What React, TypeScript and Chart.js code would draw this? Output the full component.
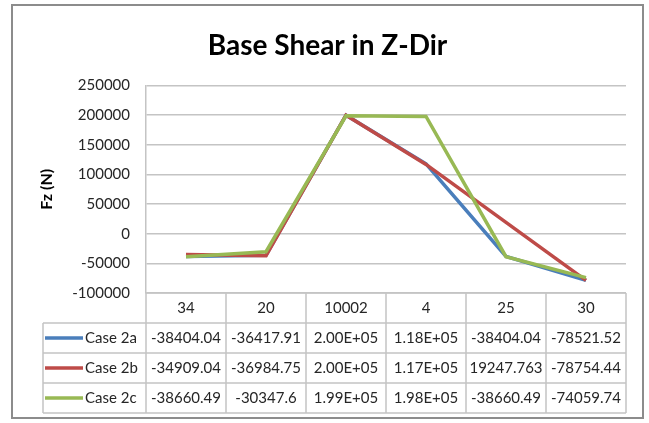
import React, { useEffect, useRef } from "react";
import { Chart, registerables } from "chart.js";

Chart.register(...registerables);

// ---- data ----
const categories = ["34", "20", "10002", "4", "25", "30"];
const seriesNames = ["Case 2a", "Case 2b", "Case 2c"];
const case2a = [-38404.04, -36417.91, 200000, 118000, -38404.04, -78521.52];
const case2b = [-34909.04, -36984.75, 200000, 117000, 19247.763, -78754.44];
const case2c = [-38660.49, -30347.6, 199000, 198000, -38660.49, -74059.74];
const seriesColors = ["#4A7EBB", "#BE4B48", "#98B954"];
const yMin = -100000;
const yMax = 250000;
const yStep = 50000;
const titleText = "Base Shear in Z-Dir";
const yTitleText = "Fz (N)";

const allSeries = [case2a, case2b, case2c];

const FONT = "Lato, 'Open Sans', sans-serif";
const GRID = "#C4C4C4";
const TEXT = "#262626";

function fmt(v: number): string {
  if (Math.abs(v) >= 100000) {
    const [m, e] = v.toExponential(2).split("e");
    const n = parseInt(e, 10);
    return m + "E" + (n < 0 ? "-" : "+") + String(Math.abs(n)).padStart(2, "0");
  }
  return String(v);
}

const ROW_H = 30;
const LEGEND_LEFT = 43;

const tablePlugin = {
  id: "excelTable",
  beforeDraw(chart: any) {
    const ctx = chart.ctx;
    ctx.save();
    ctx.fillStyle = "#ffffff";
    ctx.fillRect(0, 0, chart.width, chart.height);
    ctx.restore();
  },
  afterDraw(chart: any) {
    const { ctx, chartArea } = chart;
    const xs = chart.scales.x;
    const n = categories.length;
    const band = chartArea.width / n;
    const centers = categories.map((_, i) => xs.getPixelForValue(i));
    const edges = [centers[0] - band / 2, ...centers.map((c) => c + band / 2)];
    const top = chartArea.bottom;
    const rows = allSeries.length;
    const bottom = top + ROW_H * (rows + 1);

    ctx.save();
    ctx.strokeStyle = GRID;
    ctx.lineWidth = 1.5;
    ctx.beginPath();
    ctx.moveTo(edges[0], top);
    ctx.lineTo(edges[n], top);
    for (let r = 1; r <= rows + 1; r++) {
      const y = top + r * ROW_H;
      ctx.moveTo(LEGEND_LEFT, y);
      ctx.lineTo(edges[n], y);
    }
    edges.forEach((x) => {
      ctx.moveTo(x, top);
      ctx.lineTo(x, bottom);
    });
    ctx.moveTo(LEGEND_LEFT, top + ROW_H);
    ctx.lineTo(LEGEND_LEFT, bottom);
    ctx.stroke();

    ctx.fillStyle = TEXT;
    ctx.font = `15px ${FONT}`;
    ctx.textAlign = "center";
    ctx.textBaseline = "middle";
    categories.forEach((c, i) => ctx.fillText(c, centers[i], top + ROW_H / 2));

    allSeries.forEach((vals, r) => {
      const cy = top + ROW_H * (r + 1) + ROW_H / 2;
      ctx.strokeStyle = seriesColors[r];
      ctx.lineWidth = 3.5;
      ctx.beginPath();
      ctx.moveTo(LEGEND_LEFT + 2, cy);
      ctx.lineTo(LEGEND_LEFT + 40, cy);
      ctx.stroke();
      ctx.fillStyle = TEXT;
      ctx.textAlign = "left";
      ctx.fillText(seriesNames[r], LEGEND_LEFT + 42, cy);
      ctx.textAlign = "center";
      vals.forEach((v, i) => ctx.fillText(fmt(v), centers[i], cy));
    });

    ctx.strokeStyle = "#8C8C8C";
    ctx.lineWidth = 2;
    ctx.strokeRect(12, 5, 631, 413);
    ctx.restore();
  },
};

export default function App() {
  const ref = useRef<HTMLCanvasElement | null>(null);
  useEffect(() => {
    if (!ref.current) return;
    Chart.defaults.font.family = FONT;
    const order = [2, 1, 0];
    const chart = new Chart(ref.current, {
      type: "line",
      data: {
        labels: categories,
        datasets: allSeries.map((vals, i) => ({
          label: seriesNames[i],
          data: vals,
          borderColor: seriesColors[i],
          backgroundColor: seriesColors[i],
          borderWidth: 3.5,
          pointRadius: 0,
          tension: 0,
          order: order[i],
        })),
      },
      options: {
        animation: false,
        responsive: false,
        devicePixelRatio: 1,
        layout: { padding: { left: 29, right: 23, top: 29, bottom: 0 } },
        plugins: {
          legend: { display: false },
          tooltip: { enabled: false },
          title: {
            display: true,
            text: titleText,
            color: "#000000",
            font: { family: FONT, size: 28, weight: "bold" },
            padding: { top: 0, bottom: 23 },
          },
        },
        scales: {
          x: {
            type: "category",
            offset: true,
            grid: { display: false, drawTicks: false },
            border: { display: false },
            ticks: { display: false },
            afterFit: (s: any) => {
              s.height = 130;
            },
          },
          y: {
            min: yMin,
            max: yMax,
            grid: { color: GRID, lineWidth: 1.5, drawTicks: false },
            border: { display: true, color: GRID, width: 1.5 },
            ticks: {
              stepSize: yStep,
              padding: 16,
              color: TEXT,
              font: { family: FONT, size: 15 },
              callback: (v: any) => String(v),
            },
            title: {
              display: true,
              text: yTitleText,
              color: "#000000",
              font: { family: FONT, size: 16, weight: "bold" },
              padding: { top: 8, bottom: 0 },
            },
            afterFit: (s: any) => {
              s.width = 117;
            },
          },
        },
      },
      plugins: [tablePlugin],
    });
    return () => chart.destroy();
  }, []);
  return (
    <div style={{ position: "fixed", left: 0, top: 0, width: 649, height: 423, background: "#fff" }}>
      <canvas ref={ref} width={649} height={423} style={{ display: "block" }} />
    </div>
  );
}
